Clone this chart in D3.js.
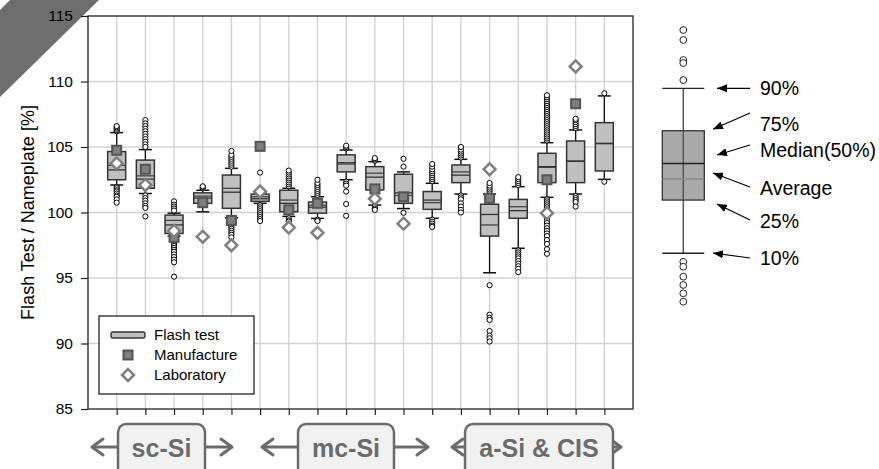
<!DOCTYPE html>
<html>
<head>
<meta charset="utf-8">
<script src="https://cdn.jsdelivr.net/npm/d3@7"></script>
<style>
  body { margin: 0; background: #fff; }
  svg { display: block; font-family: "Liberation Sans", Arial, sans-serif; }
</style>
</head>
<body>
<div id="chart"></div>
<script>
// one entry per module type, left to right
const boxIds = [1, 2, 3, 4, 5, 6, 7, 8, 9, 10, 11, 12, 13, 14, 15, 16, 17, 18]
const p10 = [102.1, 101.45, 98.2, 100.05, 99.6, 100.7, 99.7, 99.55, 102.5, 100.57, 100.3, 99.56, 101.41, 95.4, 97.27, 101.16, 101.41, 102.53]
const p25 = [102.5, 101.85, 98.4, 100.7, 100.32, 100.85, 100.06, 99.95, 103.1, 101.72, 100.7, 100.24, 102.28, 98.2, 99.56, 102.28, 102.28, 103.17]
const median = [103.25, 102.55, 99.05, 101.1, 101.55, 101.05, 100.7, 100.4, 103.8, 102.7, 101.5, 100.95, 102.85, 99.85, 100.14, 103.5, 103.93, 105.28]
const mean = [103.6, 102.8, 99.4, 101.25, 101.85, 101.2, 100.95, 100.55, 103.7, 103.0, 101.3, 100.75, 103.1, 99.05, 100.44, 103.45, 103.9, 105.25]
const p75 = [104.65, 104.0, 99.8, 101.5, 102.86, 101.4, 101.7, 100.8, 104.4, 103.5, 102.92, 101.6, 103.63, 100.63, 101.0, 104.52, 105.46, 106.86]
const p90 = [106.1, 104.8, 99.95, 101.7, 103.37, 101.5, 101.85, 101.2, 104.77, 103.88, 103.1, 102.23, 104.06, 101.41, 101.97, 105.33, 106.3, 108.9]
const manufacture = [104.75, 103.3, 98.1, 100.75, 99.4, 105.05, 100.2, 100.7, null, 101.8, 101.2, null, null, 101.08, null, 102.5, 108.3, null]
const laboratory = [103.75, 102.1, 98.6, 98.15, 97.5, 101.6, 98.85, 98.45, null, 101.05, 99.15, null, null, 103.3, null, 99.95, 111.15, null]
const outliers = [
  [106.2, 106.3, 106.4, 106.5, 106.6, 101.95, 101.85, 101.7, 101.6, 101.45, 101.3, 101.2, 101.0, 100.75],
  [107.05, 106.8, 106.6, 106.4, 106.2, 106.0, 105.8, 105.6, 105.4, 105.2, 105.0, 101.3, 101.1, 100.9, 100.7, 100.5, 100.35, 99.7],
  [100.85, 100.6, 100.45, 100.3, 100.15, 98.05, 97.9, 97.75, 97.6, 97.45, 97.3, 97.15, 97.0, 96.8, 96.6, 96.4, 96.2, 95.1],
  [101.85, 101.95, 102.0],
  [103.5, 103.65, 103.8, 103.95, 104.1, 104.25, 104.4, 104.7, 99.2, 99.05, 98.9, 98.75, 98.6, 98.45, 98.3, 98.1],
  [103.05, 100.55, 100.4, 100.25, 100.1, 99.95, 99.8, 99.65, 99.5, 99.35],
  [102.0, 102.15, 102.3, 102.45, 102.6, 102.75, 102.9, 103.05, 103.2, 99.55, 99.4, 99.3],
  [101.35, 101.5, 101.65, 101.8, 101.95, 102.1, 102.25, 102.5, 99.45, 99.35],
  [104.9, 105.0, 105.1, 102.35, 102.2, 102.05, 101.6, 100.65, 99.75],
  [103.95, 104.05, 104.15, 100.45, 100.3, 100.2],
  [103.5, 104.1, 99.98],
  [102.4, 102.55, 102.7, 102.85, 103.0, 103.15, 103.3, 103.5, 103.7, 99.45, 99.3, 99.15, 99.0, 98.9],
  [104.2, 104.35, 104.5, 104.65, 104.8, 105.0, 101.3, 101.15, 101.0, 100.7, 100.45, 100.2, 100.0],
  [101.6, 101.75, 101.9, 102.05, 102.25, 94.45, 92.2, 91.95, 91.8, 90.95, 90.6, 90.4, 90.15],
  [102.1, 102.25, 102.4, 102.55, 102.7, 97.1, 96.95, 96.8, 96.65, 96.5, 96.3, 96.1, 95.9, 95.7, 95.45],
  [105.5, 105.65, 105.8, 105.95, 106.1, 106.25, 106.4, 106.55, 106.7, 106.85, 107.0, 107.15, 107.3, 107.45, 107.6, 107.75, 107.9, 108.05, 108.2, 108.35, 108.5, 108.65, 108.8, 108.95,
   101.0, 100.85, 100.7, 100.55, 100.4, 100.25, 100.1, 99.8, 99.6, 99.4, 99.2, 99.0, 98.8, 98.6, 98.4, 98.2, 97.9, 97.6, 97.2, 96.85],
  [106.45, 106.6, 106.75, 106.9, 107.05, 107.15, 101.25, 101.1, 100.95, 100.8, 100.45],
  [109.1, 102.35]
]
const yTicks = [85, 90, 95, 100, 105, 110, 115]
const groupNames = ['sc-Si', 'mc-Si', 'a-Si & CIS']
const legendNames = ['Flash test', 'Manufacture', 'Laboratory']

// schematic box in the key, read on the same value scale
const keyNames = ['90%', '75%', 'Median(50%)', 'Average', '25%', '10%']
const keyValues = [109.48, 106.24, 103.75, 102.56, 100.95, 96.89]
const keyOutliers = [113.93, 113.17, 111.64, 111.41, 110.11, 96.24, 95.86, 95.1, 94.47, 93.83, 93.19]

const width = 879
const height = 469

const x = d3.scaleLinear().domain([0, 19]).range([88, 633])
const y = d3.scaleLinear().domain([85, 115]).range([409, 16])

const svg = d3.select('#chart')
  .append('svg')
  .attr('width', width)
  .attr('height', height)

const defs = svg.append('defs')
defs.append('marker')
  .attr('id', 'head')
  .attr('viewBox', '0 -4 10 8')
  .attr('refX', 10)
  .attr('refY', 0)
  .attr('markerWidth', 10)
  .attr('markerHeight', 8)
  .attr('markerUnits', 'userSpaceOnUse')
  .attr('orient', 'auto')
  .append('path')
  .attr('d', 'M0,-4L10,0L0,4Z')
  .attr('fill', '#000')

// corner ribbon
svg.append('polygon')
  .attr('points', '10,0 99,0 0,97 0,10')
  .attr('fill', '#6e6e6e')

// grid
svg.append('g')
  .selectAll('line')
  .data(yTicks.slice(1, -1))
  .join('line')
  .attr('x1', x(0)).attr('x2', x(19))
  .attr('y1', d => y(d)).attr('y2', d => y(d))
  .attr('stroke', '#d3d3d3')
  .attr('stroke-width', 1.4)

svg.append('g')
  .selectAll('line')
  .data(boxIds)
  .join('line')
  .attr('x1', d => x(d)).attr('x2', d => x(d))
  .attr('y1', y(115)).attr('y2', y(85))
  .attr('stroke', '#d3d3d3')
  .attr('stroke-width', 1.4)

// boxes
const boxW = 18
const capW = 13
const boxes = svg.append('g')
  .selectAll('g')
  .data(boxIds)
  .join('g')

boxes.append('line')
  .attr('x1', d => x(d)).attr('x2', d => x(d))
  .attr('y1', (d, i) => y(p10[i])).attr('y2', (d, i) => y(p90[i]))
  .attr('stroke', '#111').attr('stroke-width', 1.3)

boxes.selectAll('.cap')
  .data((d, i) => [[d, p10[i]], [d, p90[i]]])
  .join('line')
  .attr('class', 'cap')
  .attr('x1', d => x(d[0]) - capW / 2).attr('x2', d => x(d[0]) + capW / 2)
  .attr('y1', d => y(d[1])).attr('y2', d => y(d[1]))
  .attr('stroke', '#111').attr('stroke-width', 1.5)

boxes.append('rect')
  .attr('x', d => x(d) - boxW / 2)
  .attr('width', boxW)
  .attr('y', (d, i) => y(p75[i]))
  .attr('height', (d, i) => y(p25[i]) - y(p75[i]))
  .attr('fill', '#c0c0c0')
  .attr('stroke', '#333')
  .attr('stroke-width', 1.5)

boxes.append('line')
  .attr('x1', d => x(d) - boxW / 2).attr('x2', d => x(d) + boxW / 2)
  .attr('y1', (d, i) => y(mean[i])).attr('y2', (d, i) => y(mean[i]))
  .attr('stroke', '#444').attr('stroke-width', 1.3)

boxes.append('line')
  .attr('x1', d => x(d) - boxW / 2).attr('x2', d => x(d) + boxW / 2)
  .attr('y1', (d, i) => y(median[i])).attr('y2', (d, i) => y(median[i]))
  .attr('stroke', '#333').attr('stroke-width', 1.3)

boxes.selectAll('circle')
  .data((d, i) => outliers[i].map(v => [d, v]))
  .join('circle')
  .attr('cx', d => x(d[0]))
  .attr('cy', d => y(d[1]))
  .attr('r', 2.6)
  .attr('fill', '#fff')
  .attr('stroke', '#000')
  .attr('stroke-width', 1)

// manufacturer and laboratory values
const sq = 9
svg.append('g')
  .selectAll('rect')
  .data(boxIds.filter((d, i) => manufacture[i] != null))
  .join('rect')
  .attr('x', d => x(d) - sq / 2)
  .attr('y', d => y(manufacture[d - 1]) - sq / 2)
  .attr('width', sq).attr('height', sq)
  .attr('fill', '#7f7f7f')
  .attr('stroke', '#555')
  .attr('stroke-width', 2)

const diamond = d3.symbol().type(d3.symbolDiamond2).size(90)
svg.append('g')
  .selectAll('path')
  .data(boxIds.filter((d, i) => laboratory[i] != null))
  .join('path')
  .attr('d', diamond)
  .attr('transform', d => `translate(${x(d)},${y(laboratory[d - 1])})`)
  .attr('fill', '#fff')
  .attr('stroke', '#7f7f7f')
  .attr('stroke-width', 2.5)

// frame + axes
svg.append('rect')
  .attr('x', x(0)).attr('y', y(115))
  .attr('width', x(19) - x(0)).attr('height', y(85) - y(115))
  .attr('fill', 'none')
  .attr('stroke', '#222')
  .attr('stroke-width', 1.3)

const yAxis = svg.append('g')
  .attr('transform', `translate(${x(0)},0)`)
  .call(d3.axisLeft(y).tickValues(yTicks).tickSize(7).tickPadding(8))
yAxis.select('.domain').remove()
yAxis.selectAll('text').attr('font-size', 15.5).attr('fill', '#000').attr('font-family', 'Liberation Sans, Arial, sans-serif')
yAxis.selectAll('line').attr('stroke', '#222').attr('stroke-width', 1.2)

const xAxis = svg.append('g')
  .attr('transform', `translate(0,${y(85)})`)
  .call(d3.axisBottom(x).tickValues(boxIds).tickSize(6).tickFormat(''))
xAxis.select('.domain').remove()
xAxis.selectAll('line').attr('stroke', '#222').attr('stroke-width', 1.2)

svg.append('text')
  .attr('transform', `translate(28,${(y(85) + y(115)) / 2}) rotate(-90)`)
  .attr('text-anchor', 'middle')
  .attr('dy', '0.35em')
  .attr('font-size', 18)
  .text('Flash Test / Nameplate [%]')

// legend
const legend = svg.append('g').attr('transform', 'translate(99,316)')
legend.append('rect')
  .attr('width', 155).attr('height', 78)
  .attr('fill', '#fff').attr('stroke', '#111').attr('stroke-width', 1.2)
legend.append('rect')
  .attr('x', 12).attr('y', 16).attr('width', 34).attr('height', 6).attr('rx', 2)
  .attr('fill', '#c0c0c0').attr('stroke', '#333').attr('stroke-width', 1.4)
legend.append('rect')
  .attr('x', 29 - sq / 2).attr('y', 39 - sq / 2).attr('width', sq).attr('height', sq)
  .attr('fill', '#7f7f7f').attr('stroke', '#555').attr('stroke-width', 2)
legend.append('path')
  .attr('d', diamond)
  .attr('transform', 'translate(29,59)')
  .attr('fill', '#fff').attr('stroke', '#7f7f7f').attr('stroke-width', 2.5)
legend.selectAll('.lbl')
  .data(legendNames)
  .join('text')
  .attr('class', 'lbl')
  .attr('x', 55)
  .attr('y', (d, i) => 24 + i * 20)
  .attr('font-size', 15)
  .text(d => d)

// group labels along the bottom
const groupX0 = [118, 298, 465]
const groupX1 = [205, 394, 613]
const leftTip = [92, 262, 452]
const rightTip = [232, 428, 621]
const gy = 447
const grey = '#6b6b6b'
const groups = svg.append('g')
groupNames.forEach((name, i) => {
  const g = groups.append('g')
  ;[[groupX0[i], leftTip[i], 1], [groupX1[i], rightTip[i], -1]].forEach(([from, tip, dir]) => {
    g.append('line')
      .attr('x1', from).attr('x2', tip + dir * 2).attr('y1', gy).attr('y2', gy)
      .attr('stroke', grey).attr('stroke-width', 3)
    g.append('path')
      .attr('d', `M${tip + dir * 11},${gy - 8}L${tip},${gy}L${tip + dir * 11},${gy + 8}`)
      .attr('fill', 'none').attr('stroke', grey).attr('stroke-width', 3)
      .attr('stroke-linejoin', 'round').attr('stroke-linecap', 'round')
  })
  g.append('rect')
    .attr('x', groupX0[i]).attr('y', 424)
    .attr('width', groupX1[i] - groupX0[i]).attr('height', 60)
    .attr('rx', 8)
    .attr('fill', '#f1f1f1').attr('stroke', grey).attr('stroke-width', 2.5)
  g.append('text')
    .attr('x', (groupX0[i] + groupX1[i]) / 2).attr('y', 457)
    .attr('text-anchor', 'middle')
    .attr('font-size', 25).attr('font-weight', 'bold')
    .attr('fill', grey)
    .text(name)
})

// key on the right
const kx = 683.3
const kw = 42
const key = svg.append('g')
key.append('line')
  .attr('x1', kx).attr('x2', kx)
  .attr('y1', y(keyValues[0])).attr('y2', y(keyValues[5]))
  .attr('stroke', '#555').attr('stroke-width', 1.5)
key.selectAll('.kcap')
  .data([keyValues[0], keyValues[5]])
  .join('line')
  .attr('class', 'kcap')
  .attr('x1', kx - kw / 2).attr('x2', kx + kw / 2)
  .attr('y1', d => y(d)).attr('y2', d => y(d))
  .attr('stroke', '#222').attr('stroke-width', 1.3)
key.append('rect')
  .attr('x', kx - kw / 2).attr('width', kw)
  .attr('y', y(keyValues[1])).attr('height', y(keyValues[4]) - y(keyValues[1]))
  .attr('fill', '#a9a9a9').attr('stroke', '#333').attr('stroke-width', 1.3)
key.append('line')
  .attr('x1', kx).attr('x2', kx)
  .attr('y1', y(keyValues[1])).attr('y2', y(keyValues[4]))
  .attr('stroke', '#555').attr('stroke-width', 1.5)
key.append('line')
  .attr('x1', kx - kw / 2).attr('x2', kx + kw / 2)
  .attr('y1', y(keyValues[3])).attr('y2', y(keyValues[3]))
  .attr('stroke', '#8a8a8a').attr('stroke-width', 1.5)
key.append('line')
  .attr('x1', kx - kw / 2).attr('x2', kx + kw / 2)
  .attr('y1', y(keyValues[2])).attr('y2', y(keyValues[2]))
  .attr('stroke', '#222').attr('stroke-width', 1.5)
key.selectAll('circle')
  .data(keyOutliers)
  .join('circle')
  .attr('cx', kx).attr('cy', d => y(d)).attr('r', 3.4)
  .attr('fill', '#fff').attr('stroke', '#222').attr('stroke-width', 1)

// arrow start y, arrow head (x, y), label baseline
const arrowFromY = [88.3, 113, 145, 187, 220, 258]
const arrowToX = [717, 713, 717, 713, 717, 713]
const arrowToY = [88.3, 129.3, 155, 173, 204, 253]
const labelY = [95, 131, 157, 195, 228, 265]
keyNames.forEach((name, i) => {
  key.append('line')
    .attr('x1', 750).attr('y1', arrowFromY[i])
    .attr('x2', arrowToX[i]).attr('y2', arrowToY[i])
    .attr('stroke', '#000').attr('stroke-width', 1.2)
    .attr('marker-end', 'url(#head)')
  key.append('text')
    .attr('x', 760).attr('y', labelY[i])
    .attr('font-size', 19.5)
    .text(name)
})
</script>
</body>
</html>
